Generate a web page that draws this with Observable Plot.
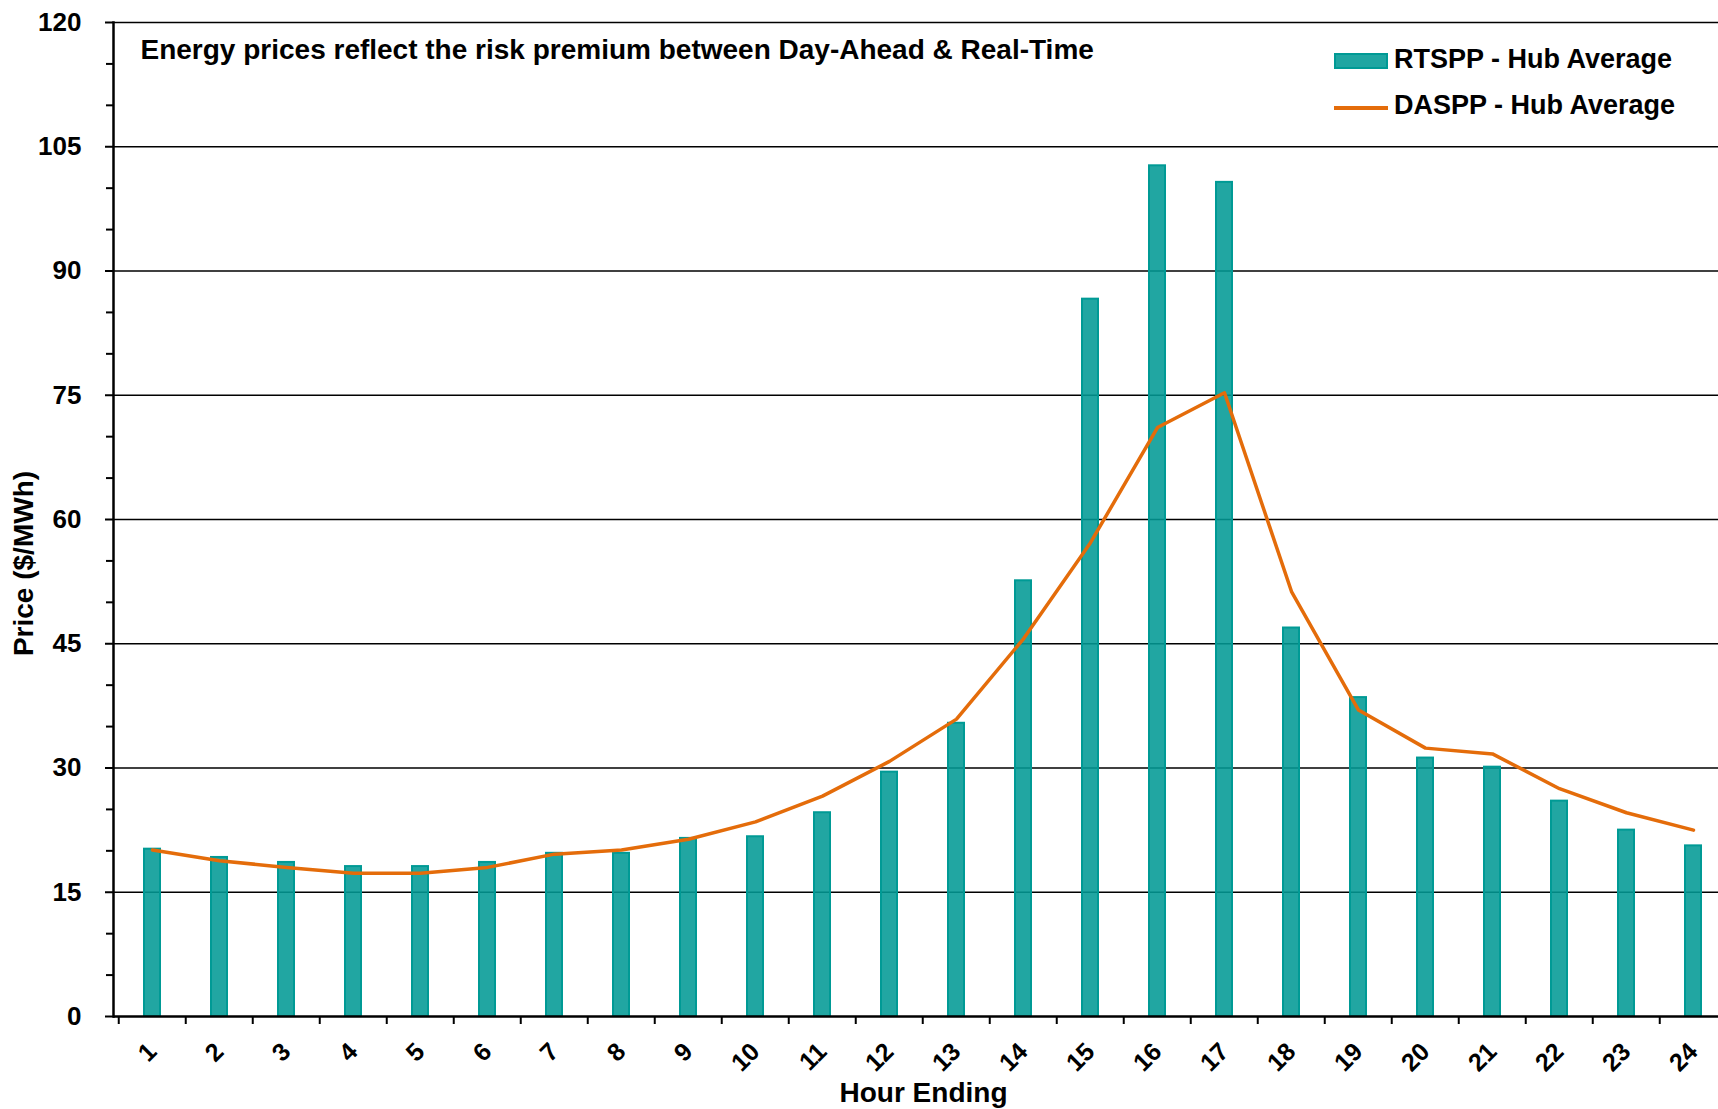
<!DOCTYPE html>
<html><head><meta charset="utf-8">
<script src="https://cdn.jsdelivr.net/npm/d3@7"></script>
<script src="https://cdn.jsdelivr.net/npm/@observablehq/plot@0.6"></script>
<style>
html,body{margin:0;padding:0;background:#fff;overflow:hidden;}
#wrap{position:relative;width:1718px;height:1109px;overflow:hidden;font-family:"Liberation Sans",Arial,sans-serif;font-weight:bold;color:#000;}
#wrap svg{max-width:none !important;}
.lgt{position:absolute;font-size:27px;line-height:27px;white-space:nowrap;}
.sw{position:absolute;box-sizing:border-box;}
</style></head><body><div id="wrap"></div>
<script>
const hours = ["1","2","3","4","5","6","7","8","9","10","11","12","13","14","15","16","17","18","19","20","21","22","23","24"];
const rtspp = [20.2,19.2,18.6,18.1,18.1,18.6,19.7,19.7,21.5,21.7,24.6,29.5,35.4,52.6,86.6,102.7,100.7,46.9,38.5,31.2,30.1,26.0,22.5,20.6];
const daspp = [20.1,18.8,18.0,17.3,17.3,18.0,19.6,20.1,21.4,23.5,26.6,30.8,35.9,45.6,57.2,71.1,75.3,51.3,37.0,32.4,31.7,27.5,24.6,22.5];
const yTicks = [0,15,30,45,60,75,90,105,120];
const yMinorTicks = [5,10,20,25,35,40,50,55,65,70,80,85,95,100,110,115];
const seriesNames = ["RTSPP - Hub Average","DASPP - Hub Average"];
const titleText = "Energy prices reflect the risk premium between Day-Ahead & Real-Time";
const xLabel = "Hour Ending";
const yLabel = "Price ($/MWh)";

const barFill = "#029A95", barStroke = "#009A95", lineColor = "#E46C0A";
const data = hours.map((h,i)=>({hour:h, rt:rtspp[i], da:daspp[i]}));

const W = 1733, ML = 113;
const step = (W - ML) / hours.length;

const chart = Plot.plot({
  width: W, height: 1109,
  marginLeft: ML, marginRight: 0, marginTop: 22, marginBottom: 93,
  style: {fontFamily: '"Liberation Sans", Arial, sans-serif', fontWeight: "bold", fontSize: "25px", color: "#000", background: "#fff", overflow: "visible", maxWidth: "none"},
  x: {type: "band", domain: hours, paddingInner: 0.76, paddingOuter: 0.38, label: null},
  y: {domain: [0,120], label: null},
  marks: [
    Plot.gridY(yTicks.filter(d=>d>0), {stroke: "#000", strokeOpacity: 1, strokeWidth: 1.6}),
    Plot.barY(data, {x: "hour", y: "rt", fill: barFill, fillOpacity: 0.88, stroke: barStroke, strokeWidth: 2}),
    Plot.line(data, {x: "hour", y: "da", stroke: lineColor, strokeWidth: 3.5, strokeLinejoin: "round"}),
    Plot.axisY({ticks: yMinorTicks, tickSize: 7, tickFormat: () => "", strokeWidth: 2, label: null}),
    Plot.axisY({ticks: yTicks, tickSize: 8, tickPadding: 24, fontSize: 26, strokeWidth: 2, label: null}),
    Plot.axisX({tickSize: 8, tickFormat: () => "", dx: -step/2, strokeWidth: 2, label: null}),
    Plot.axisX({tickSize: 0, tickRotate: -45, tickPadding: 31, fontSize: 25, label: null}),
    Plot.frame({anchor: "left", strokeWidth: 2.5}),
    Plot.ruleY([0], {strokeWidth: 2.5}),
    Plot.text([yLabel], {frameAnchor: "left", dx: -89, dy: 44, rotate: -90, fontSize: 28, textAnchor: "middle", lineAnchor: "middle"}),
    Plot.text([xLabel], {frameAnchor: "bottom", dy: 77, fontSize: 28, textAnchor: "middle", lineAnchor: "middle"}),
    Plot.text([titleText], {frameAnchor: "top-left", dx: 27, dy: 28, fontSize: 28, textAnchor: "start", lineAnchor: "middle"})
  ]
});
chart.style.maxWidth = "none";
const wrap = document.getElementById("wrap");
wrap.appendChild(chart);

// legend
const sw1 = document.createElement("div");
sw1.className = "sw";
Object.assign(sw1.style, {left: "1334px", top: "53px", width: "54px", height: "16px", background: "#1FA6A2", border: "2.5px solid " + barStroke});
const sw2 = document.createElement("div");
sw2.className = "sw";
Object.assign(sw2.style, {left: "1334px", top: "106px", width: "54px", height: "4px", background: lineColor});
const t1 = document.createElement("div"); t1.className = "lgt"; t1.textContent = seriesNames[0];
Object.assign(t1.style, {left: "1394px", top: "46px"});
const t2 = document.createElement("div"); t2.className = "lgt"; t2.textContent = seriesNames[1];
Object.assign(t2.style, {left: "1394px", top: "92px"});
[sw1, sw2, t1, t2].forEach(e => wrap.appendChild(e));
</script>
</body></html>
